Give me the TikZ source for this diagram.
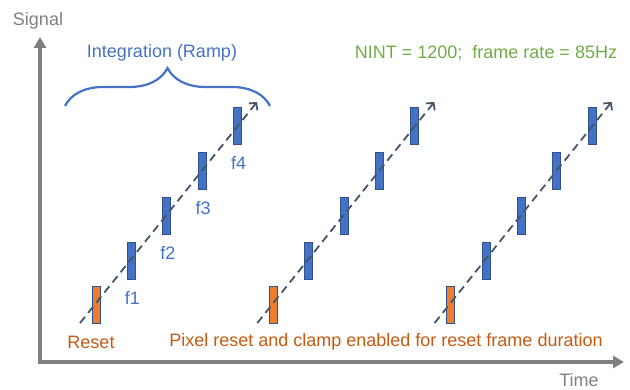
\documentclass[tikz,border=0pt]{standalone}
\usepackage{fontspec}
\setmainfont{Liberation Sans}
\usepackage{tikz}
\usetikzlibrary{arrows.meta,calc,decorations.pathreplacing}

\definecolor{axisgray}{RGB}{128,128,128}
\definecolor{barblue}{RGB}{68,114,196}
\definecolor{bardark}{RGB}{47,82,143}
\definecolor{resetorange}{RGB}{237,125,49}
\definecolor{textorange}{RGB}{197,90,17}
\definecolor{rampgray}{RGB}{68,84,106}
\definecolor{infogreen}{RGB}{112,173,71}

\tikzset{
  framebar/.style={draw=bardark, line width=1pt, fill=barblue, minimum width=8pt, minimum height=37pt, inner sep=0pt},
  resetbar/.style={framebar, fill=resetorange},
  ramp/.style={draw=rampgray, line width=1.8pt, dash pattern=on 8pt off 5pt, -{Straight Barb[length=5pt,width=11pt]}},
  axis/.style={draw=axisgray, line width=3.5pt, {Triangle[length=11pt,width=12pt]}-{Triangle[length=11pt,width=12pt]}},
  lbl/.style={font=\fontsize{18}{21}\selectfont, inner sep=1pt},
}

\begin{document}
\begin{tikzpicture}[x=1pt,y=-1pt]
\useasboundingbox (0,0) rectangle (630,390);
% axes
\coordinate (ytip) at (40,37);
\coordinate (xtip) at (624,362);
\draw[axis] (ytip) |- (xtip);
\node[lbl, text=axisgray] (signal) at (38,21) {Signal};
\node[lbl, text=axisgray] (time) at (579,380) {Time};

% three integration ramps
\foreach \g in {0,1,2} {
  \begin{scope}[xshift=\g*177.3]
    \node[resetbar] (r\g) at (96,305.5) {};
    \foreach \k in {1,...,4}
      \node[framebar] (f\g\k) at ({96+35.4*\k},{305.5-44.8*\k}) {};
    \coordinate (s\g) at (80,323);
    \coordinate (e\g) at (257,102);
    \draw[ramp] (s\g) -- (e\g);
  \end{scope}
}

% frame labels
\foreach \k in {1,...,4}
  \node[lbl, text=barblue] (fl\k) at ($(f0\k.south)+(1,18)$) {f\k};

% integration brace
\coordinate (bl) at (65,106);
\coordinate (br) at (270,106);
\draw[barblue, line width=2.2pt, decorate, decoration={brace, amplitude=38pt}] (bl) -- (br);
\node[lbl, text=barblue] (integ) at (162,53) {Integration (Ramp)};
\node[lbl, text=infogreen] (nint) at (486,53) {NINT = 1200;\ \ frame rate = 85Hz};

% reset labels
\node[lbl, text=textorange] (resetlbl) at (91,342) {Reset};
\node[lbl, text=textorange] (pixellbl) at (386,342) {Pixel reset and clamp enabled for reset frame duration};
\end{tikzpicture}
\end{document}
